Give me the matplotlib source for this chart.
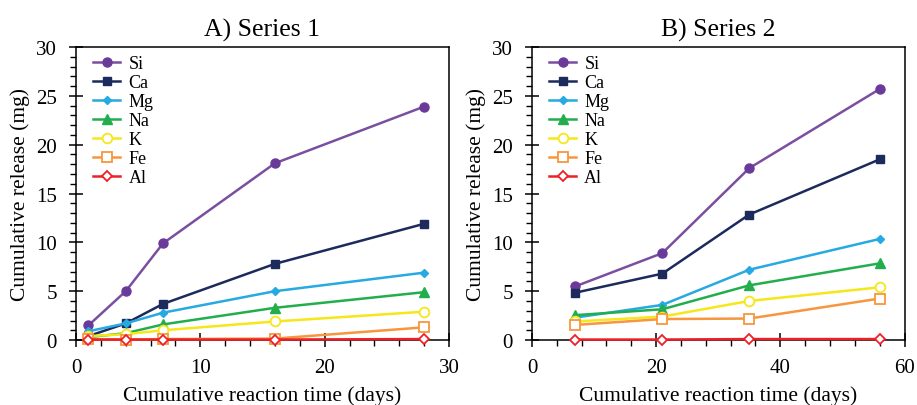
import matplotlib
matplotlib.use("Agg")
import matplotlib.pyplot as plt
from matplotlib.ticker import MultipleLocator

plt.rcParams['font.family'] = ['Liberation Serif', 'DejaVu Serif']
plt.rcParams['mathtext.fontset'] = 'stix'

elements = ["Si", "Ca", "Mg", "Na", "K", "Fe", "Al"]

time_1 = [1, 4, 7, 16, 28]
si_1 = [1.5, 5.0, 9.9, 18.1, 23.9]
ca_1 = [0.4, 1.7, 3.7, 7.8, 11.9]
mg_1 = [0.9, 1.7, 2.8, 5.0, 6.9]
na_1 = [0.3, 0.7, 1.6, 3.3, 4.9]
k_1 = [0.4, 0.6, 1.0, 1.9, 2.9]
fe_1 = [0.1, 0.05, 0.1, 0.15, 1.3]
al_1 = [0.05, 0.05, 0.05, 0.05, 0.1]

time_2 = [7, 21, 35, 56]
si_2 = [5.5, 8.9, 17.6, 25.7]
ca_2 = [4.85, 6.8, 12.85, 18.5]
mg_2 = [2.3, 3.6, 7.2, 10.35]
na_2 = [2.55, 3.15, 5.6, 7.85]
k_2 = [1.9, 2.4, 4.0, 5.4]
fe_2 = [1.55, 2.15, 2.2, 4.25]
al_2 = [0.05, 0.05, 0.1, 0.1]

titles = ["A) Series 1", "B) Series 2"]

styles = {
    "Si": dict(color="#7B4FA0", marker="o", ms=6.5, mfc="#6A3A9A", mec="#6A3A9A"),
    "Ca": dict(color="#1C2A5C", marker="s", ms=6, mfc="#1C2A5C", mec="#1C2A5C"),
    "Mg": dict(color="#27A9E1", marker="D", ms=4, mfc="#27A9E1", mec="#27A9E1"),
    "Na": dict(color="#22AE4C", marker="^", ms=6.5, mfc="#22AE4C", mec="#22AE4C"),
    "K": dict(color="#F5E71A", marker="o", ms=7, mfc="white", mec="#F5E71A", mew=1.3),
    "Fe": dict(color="#F7963E", marker="s", ms=6.5, mfc="white", mec="#F7963E", mew=1.3),
    "Al": dict(color="#EC2127", marker="D", ms=5.5, mfc="white", mec="#EC2127", mew=1.3),
}

fig = plt.figure(figsize=(9.17, 4.06), dpi=100)
ax1 = fig.add_axes([0.0829, 0.160, 0.4067, 0.7217])
ax2 = fig.add_axes([0.5801, 0.160, 0.4063, 0.7217])

datasets = [
    (ax1, time_1, [si_1, ca_1, mg_1, na_1, k_1, fe_1, al_1], 30, 10, 2),
    (ax2, time_2, [si_2, ca_2, mg_2, na_2, k_2, fe_2, al_2], 60, 20, 4),
]

for i, (ax, t, series, xmax, xmaj, xmin) in enumerate(datasets):
    for name, vals in zip(elements, series):
        ax.plot(t, vals, lw=1.8, label=name, **styles[name], clip_on=False, zorder=3)
    ax.set_xlim(0, xmax)
    ax.set_ylim(0, 30)
    ax.xaxis.set_major_locator(MultipleLocator(xmaj))
    ax.xaxis.set_minor_locator(MultipleLocator(xmin))
    ax.yaxis.set_major_locator(MultipleLocator(5))
    ax.yaxis.set_minor_locator(MultipleLocator(1))
    ax.tick_params(which="major", direction="inout", length=9.5, width=1.1,
                   labelsize=15, top=False, right=False)
    ax.tick_params(axis="x", which="major", pad=8)
    ax.tick_params(axis="y", which="major", pad=9)
    ax.tick_params(which="minor", direction="out", length=4, width=1.0,
                   top=False, right=False)
    for sp in ax.spines.values():
        sp.set_linewidth(1.1)
    ax.set_xlabel("Cumulative reaction time (days)", fontsize=15.5, labelpad=6)
    ax.set_ylabel("Cumulative release (mg)", fontsize=15.5, labelpad=4)
    ax.set_title(titles[i], fontsize=18.5, pad=8)
    ax.legend(loc="upper left", frameon=False, fontsize=13, handlelength=1.5,
              handletextpad=0.45, labelspacing=0.11, borderaxespad=0.55,
              bbox_to_anchor=(0.0, 1.031))

fig.savefig("out.png", dpi=100)
